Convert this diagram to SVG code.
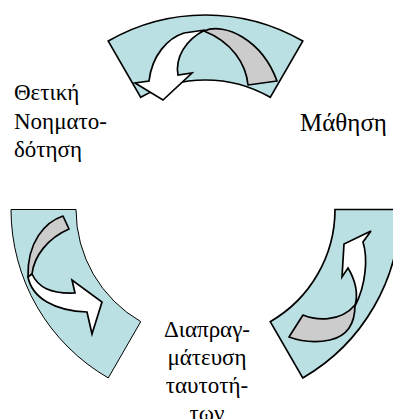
<svg xmlns="http://www.w3.org/2000/svg" width="393" height="419" viewBox="0 0 393 419">
<style>
.seg{fill:#BBE0E3;stroke:#000;stroke-width:1.7;stroke-linejoin:miter}
.thin{stroke-width:1}
.back{fill:#CCCCCC;stroke:#000;stroke-width:1.7;stroke-linejoin:round}
.front{fill:#FFFFFF;stroke:#000;stroke-width:1.7;stroke-linejoin:miter}
.lbl{font-family:"Liberation Serif","Times New Roman",serif;font-size:23px;fill:#000}
.big{font-size:25px}
</style>
<rect width="393" height="419" fill="#FFFFFF"/>
<g id="node-top">
<path class="seg" d="M108.25,41.06 A194.5,194.5 0 0 1 302.75,41.06 L270.25,97.35 A129.5,129.5 0 0 0 140.75,97.35 Z"/>
</g>
<g id="node-right">
<path class="seg" d="M400,209.5 A194.5,194.5 0 0 1 302.75,377.94 L270.25,321.65 A129.5,129.5 0 0 0 335,209.5 Z"/>
</g>
<g id="node-left">
<path class="seg thin" d="M108.25,377.94 A194.5,194.5 0 0 1 11,209.5 L76,209.5 A129.5,129.5 0 0 0 140.75,321.65 Z"/>
</g>
<g id="connectors">
<g id="arrow-top">
<path class="back" d="M204,31 C225,22 262,40 277,81 L248,85 C246,64 232,42 204,31 Z"/>
<path class="front" d="M205,30 L184,33 C168,38 152,55 149,81 L135,83 L163,100 L192,73 L178,75 C175,58 185,40 205,30 Z"/>
</g>
<g id="arrow-right">
<path class="back" d="M303,315 C315,320 340,323 355,305 C355,322 348,336 330,340 C315,343 300,341 289,337 Z"/>
<path class="front" d="M355,306 C358,295 357,283 348,268 L342,277 L344,244 L371,231 L363,242 C368,258 366,285 355,306 Z"/>
</g>
<g id="arrow-left">
<path class="back" d="M63,216 C45,222 27,242 28,277 L32,274 C34,256 48,238 69,229 Z"/>
<path class="front" d="M28,277 C32,298 55,311 87,312 L92,334 L102,302 L72,280 L75,293 C50,294 38,287 32,274 Z"/>
</g>
</g>
<g id="label-left">
<text class="lbl" x="14" y="100">Θετική</text>
<text class="lbl" x="14" y="129">Νοηματο-</text>
<text class="lbl" x="14" y="157">δότηση</text>
</g>
<g id="label-right">
<text class="lbl big" x="300" y="131">Μάθηση</text>
</g>
<g id="label-bottom">
<text class="lbl" x="207" y="337" text-anchor="middle">Διαπραγ-</text>
<text class="lbl" x="207" y="365" text-anchor="middle">μάτευση</text>
<text class="lbl" x="207" y="393" text-anchor="middle">ταυτοτή-</text>
<text class="lbl" x="207" y="421" text-anchor="middle">των</text>
</g>
</svg>
